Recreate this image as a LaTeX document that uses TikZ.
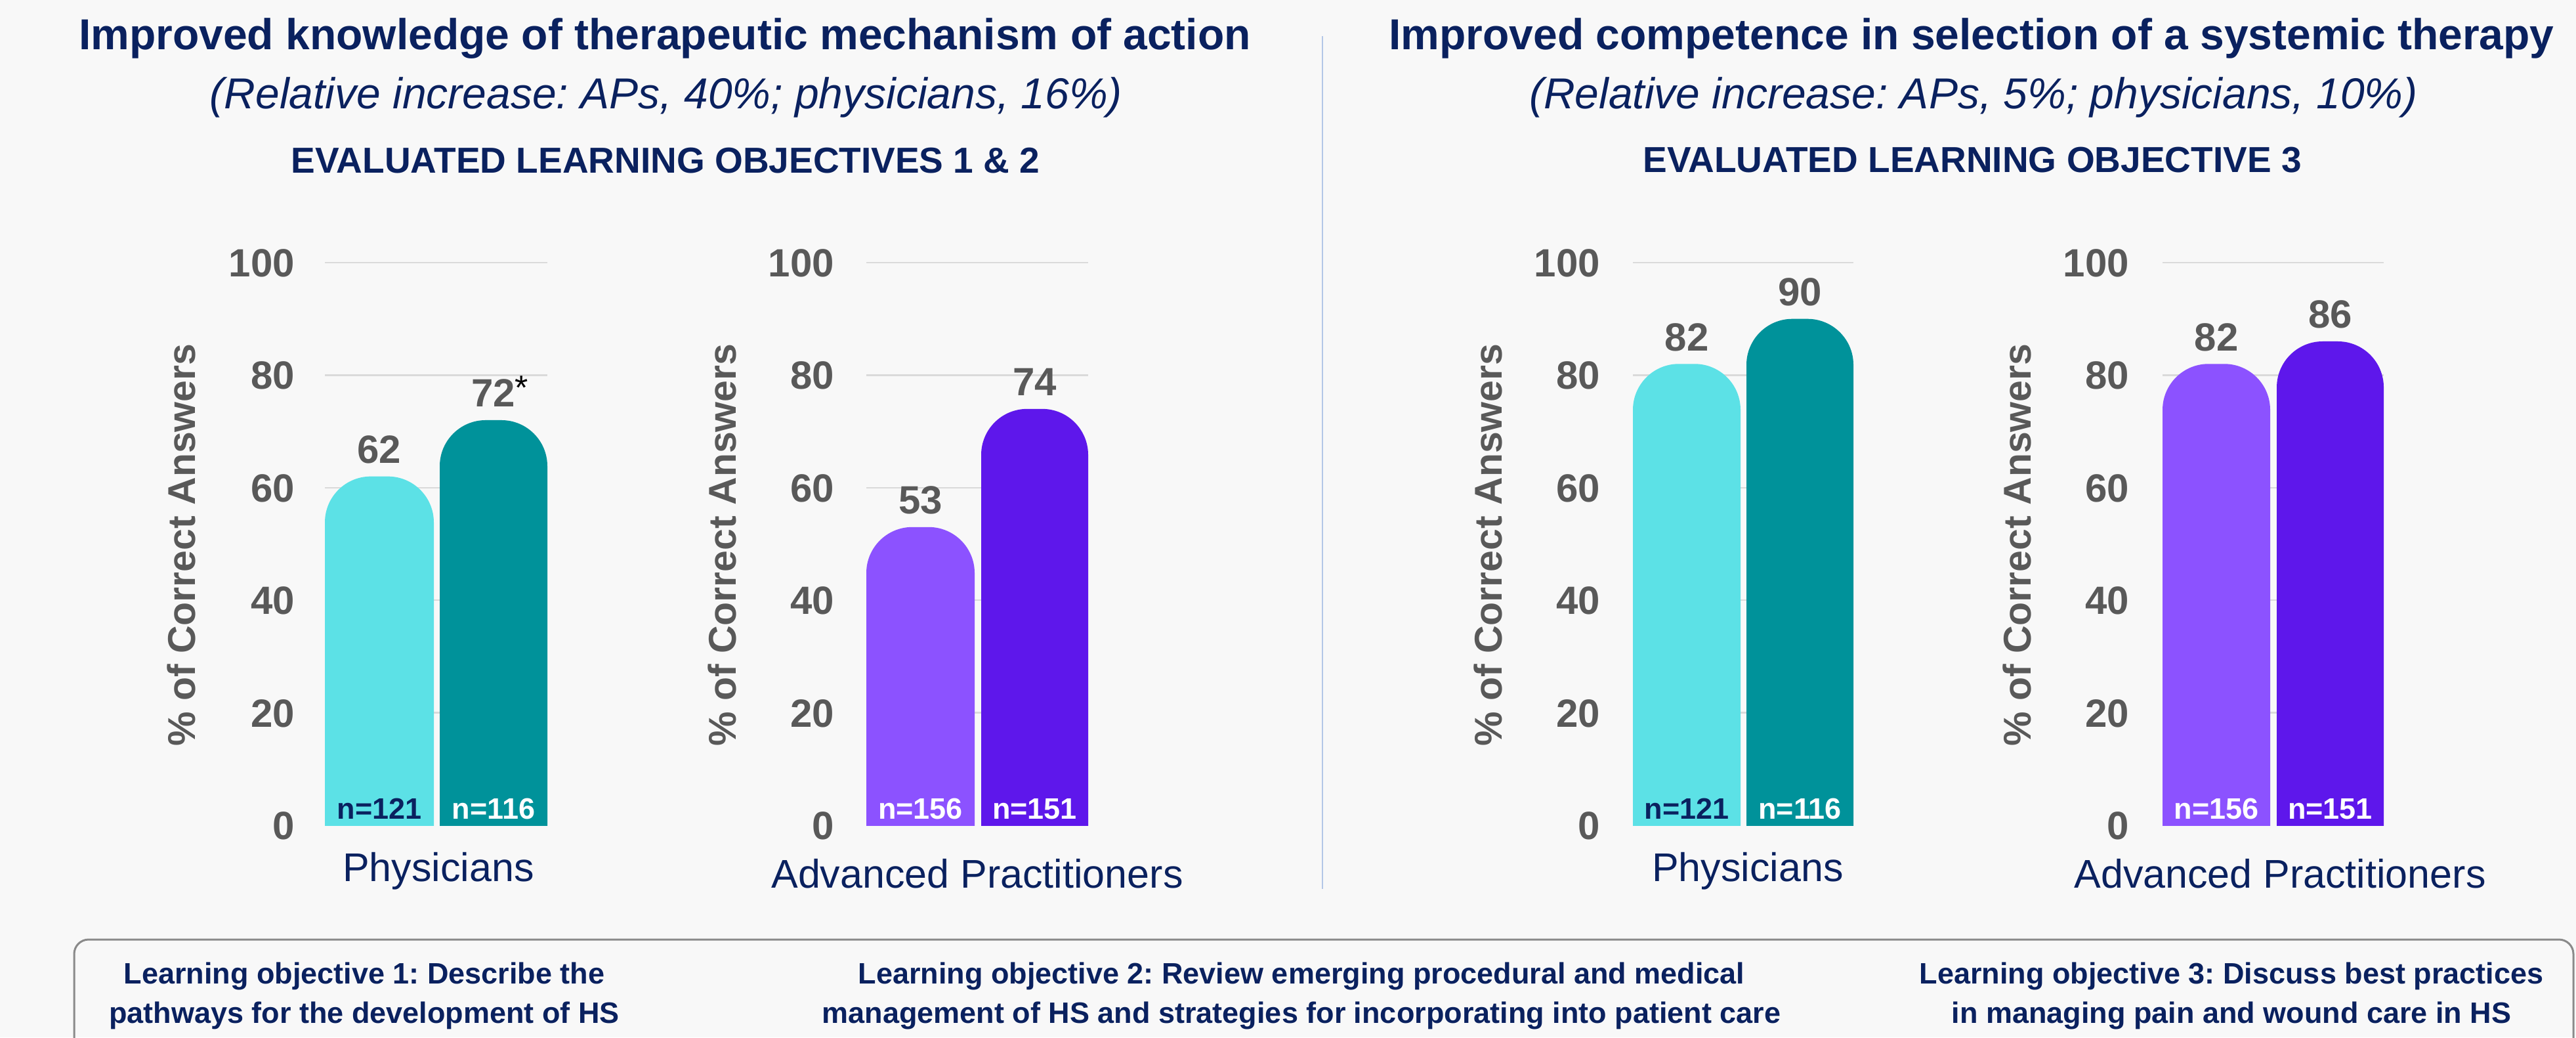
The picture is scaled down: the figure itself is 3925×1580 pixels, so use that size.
\documentclass[tikz,border=0pt]{standalone}
\usepackage{fontspec}
\setmainfont{Liberation Sans}
\frenchspacing
\definecolor{navy}{HTML}{0A215F}
\definecolor{labgray}{HTML}{595959}
\definecolor{bgcol}{HTML}{F8F8F8}
\definecolor{gridcol}{HTML}{DADADA}
\definecolor{cyanbar}{HTML}{5CE1E6}
\definecolor{tealbar}{HTML}{00929A}
\definecolor{lpurple}{HTML}{8C52FF}
\definecolor{dpurple}{HTML}{5E17EB}
\definecolor{divcol}{HTML}{B4C7E7}
\definecolor{boxcol}{HTML}{8A8A8A}
\tikzset{
  titletxt/.style={anchor=base, inner sep=0, text=navy, font=\fontsize{66}{79}\selectfont\bfseries\frenchspacing},
  subtxt/.style={anchor=base, inner sep=0, text=navy, font=\fontsize{66}{79}\selectfont\itshape\frenchspacing},
  evaltxt/.style={anchor=base, inner sep=0, text=navy, font=\fontsize{55}{66}\selectfont\bfseries},
  vallab/.style={anchor=base, inner sep=0, text=labgray, font=\fontsize{60}{72}\selectfont\bfseries},
  nlab/.style={anchor=base, inner sep=0, font=\fontsize{45}{54}\selectfont\bfseries},
  ticklab/.style={anchor=base east, inner sep=0, text=labgray, font=\fontsize{60}{72}\selectfont\bfseries},
  ytitle/.style={rotate=90, anchor=center, inner sep=0, text=labgray, font=\fontsize{59}{70}\selectfont\bfseries},
  catlab/.style={anchor=base, inner sep=0, text=navy, font=\fontsize{61}{73}\selectfont},
  lotxt/.style={anchor=center, inner sep=0, align=center, text=navy, font=\fontsize{45}{60}\selectfont\bfseries\frenchspacing},
  gridln/.style={draw=gridcol, line width=2.5pt},
  divln/.style={draw=divcol, line width=2.5pt},
  boxln/.style={draw=boxcol, line width=3pt, rounded corners=22pt}
}
\newcommand\drawbar[7]{%
  \pgfmathsetmacro\bartop{1257-8.57*#4}%
  \pgfmathsetmacro\barmid{(#2+#3)/2}%
  \begin{scope}
    \clip (#2,{\bartop-2}) rectangle (#3,1257);
    \fill[#5, rounded corners=70pt] (#2,\bartop) rectangle (#3,1420);
  \end{scope}
  \node[vallab] (#1v) at (\barmid,{\bartop-20}) {#4};
  \node[nlab, text=#7] (#1n) at (\barmid,1247) {#6};
}
\newcommand\drawaxis[5]{%
  \foreach \v in {20,40,...,100} {\draw[gridln] (#3,{1257-8.57*\v}) -- (#4,{1257-8.57*\v});}
  \foreach \v in {0,20,...,100} {\node[ticklab] (#1t\v) at (#2,{1257-8.57*\v+21.5}) {\v};}
  \node[ytitle] (#1y) at (#5,830) {\% of Correct Answers};
}
\begin{document}
\frenchspacing
\begin{tikzpicture}[x=1pt,y=-1pt]
\useasboundingbox (0,0) rectangle (3925,1580);
\fill[bgcol] (0,0) rectangle (3925,1580);

% titles
\node[titletxt] (t1) at (1013,75) {Improved knowledge of therapeutic mechanism of action};
\node[subtxt] (s1) at (1015,165) {(Relative increase: APs, 40\%; physicians, 16\%)};
\node[evaltxt] (e1) at (1014,263) {EVALUATED LEARNING OBJECTIVES 1 \& 2};
\node[titletxt] (t2) at (3004,75) {Improved competence in selection of a systemic therapy};
\node[subtxt] (s2) at (3007,165) {(Relative increase: APs, 5\%; physicians, 10\%)};
\node[evaltxt] (e2) at (3005,262) {EVALUATED LEARNING OBJECTIVE 3};

% divider
\coordinate (dtop) at (2015,55);
\coordinate (dbot) at (2015,1354);
\draw[divln] (dtop) -- (dbot);

% chart 1
\drawaxis{ca}{449}{495}{834}{276}
\drawbar{caa}{495}{661}{62}{cyanbar}{n=121}{navy}
\drawbar{cab}{670}{834}{72}{tealbar}{n=116}{white}
\node[anchor=base west, inner sep=0, font=\fontsize{52}{62}\selectfont] (ast) at (784,608) {*};
\node[catlab] (cac) at (668,1342) {Physicians};

% chart 2
\drawaxis{cb}{1271}{1320}{1658}{1100}
\drawbar{cba}{1320}{1485}{53}{lpurple}{n=156}{white}
\drawbar{cbb}{1495}{1658}{74}{dpurple}{n=151}{white}
\node[catlab] (cbc) at (1489,1352) {Advanced Practitioners};

% chart 3
\drawaxis{cc}{2438}{2488}{2824}{2267}
\drawbar{cca}{2488}{2652}{82}{cyanbar}{n=121}{navy}
\drawbar{ccb}{2661}{2824}{90}{tealbar}{n=116}{white}
\node[catlab] (ccc) at (2663,1342) {Physicians};

% chart 4
\drawaxis{cd}{3244}{3295}{3632}{3073}
\drawbar{cda}{3295}{3459}{82}{lpurple}{n=156}{white}
\drawbar{cdb}{3469}{3632}{86}{dpurple}{n=151}{white}
\node[catlab] (cdc) at (3474,1352) {Advanced Practitioners};

% bottom box
\draw[boxln] (113,1431) rectangle (3921,1660);
\node[lotxt] (lo1) at (555,1517) {Learning objective 1: Describe the\\pathways for the development of HS};
\node[lotxt] (lo2) at (1983,1517) {Learning objective 2: Review emerging procedural and medical\\management of HS and strategies for incorporating into patient care};
\node[lotxt] (lo3) at (3400,1517) {Learning objective 3: Discuss best practices\\in managing pain and wound care in HS};
\end{tikzpicture}
\end{document}
